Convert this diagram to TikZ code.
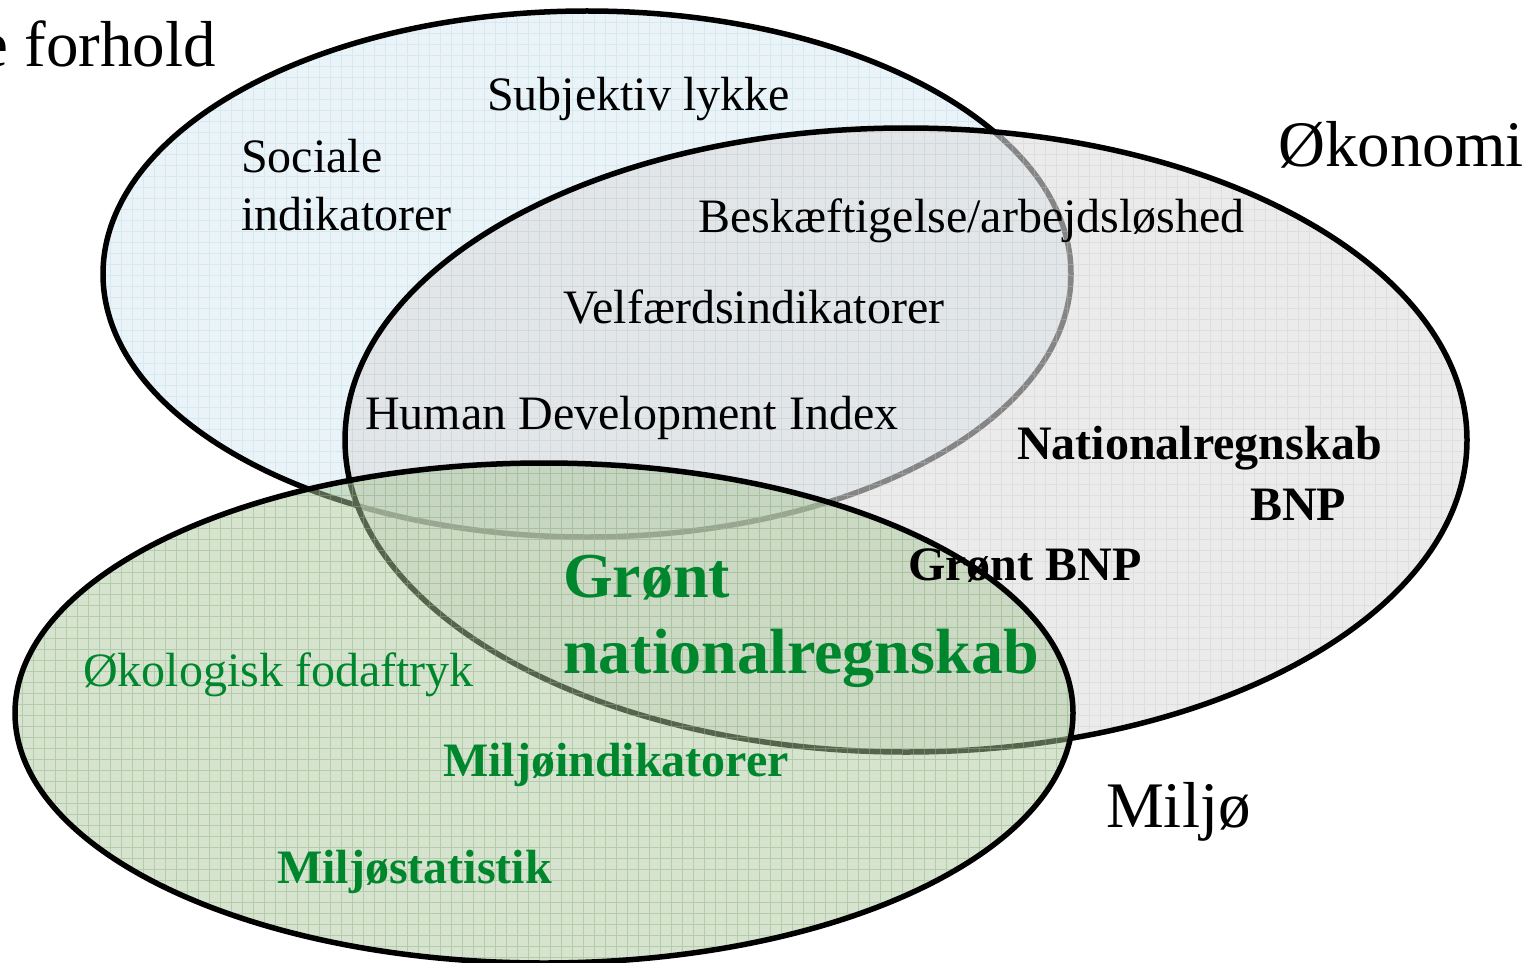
\documentclass[tikz,border=0pt]{standalone}
\usepackage{fontspec}
\setmainfont{Liberation Serif}
\definecolor{blueset}{RGB}{234,244,248}
\definecolor{bluegrid}{RGB}{214,232,240}
\definecolor{grayset}{RGB}{222,222,222}
\definecolor{graygrid}{RGB}{200,200,200}
\definecolor{greenset}{RGB}{171,199,159}
\definecolor{greengrid}{RGB}{140,178,125}
\definecolor{txtgreen}{RGB}{0,134,45}
\tikzset{
  outline/.style={line width=5.5pt, draw=black},
  lbl/.style={anchor=base west, inner sep=0pt, font=\fontsize{48}{58}\selectfont},
  lblb/.style={anchor=base west, inner sep=0pt, font=\fontsize{48}{58}\selectfont\bfseries},
  setlbl/.style={anchor=base west, inner sep=0pt, font=\fontsize{65}{78}\selectfont},
  biggreen/.style={anchor=base west, inner sep=0pt, text=txtgreen, font=\fontsize{64}{78}\selectfont\bfseries},
  gridline/.style={line width=0.7pt, step=11pt}
}
\begin{document}
\begin{tikzpicture}[x=1pt,y=-1pt]
\useasboundingbox (0,0) rectangle (1539,963);
\begin{scope}
\clip (0,0) rectangle (1539,963);
% Social set (blue)
\fill[blueset] (587,274) ellipse [x radius=484, y radius=263];
\begin{scope}
  \clip (587,274) ellipse [x radius=484, y radius=263];
  \draw[gridline, bluegrid] (0,0) grid (1539,963);
\end{scope}
\draw[outline] (587,274) ellipse [x radius=484, y radius=263];
% Economy set (gray)
\fill[grayset, fill opacity=0.6] (906,440) ellipse [x radius=561, y radius=312];
\begin{scope}
  \clip (906,440) ellipse [x radius=561, y radius=312];
  \draw[gridline, graygrid, opacity=0.35] (0,0) grid (1539,963);
\end{scope}
\draw[outline] (906,440) ellipse [x radius=561, y radius=312];
% Environment set (green)
\fill[greenset, fill opacity=0.5] (544,713) ellipse [x radius=529, y radius=250];
\begin{scope}
  \clip (544,713) ellipse [x radius=529, y radius=250];
  \draw[gridline, greengrid, opacity=0.45] (0,0) grid (1539,963);
\end{scope}
\draw[outline] (544,713) ellipse [x radius=529, y radius=250];

% set labels
\node[setlbl, anchor=base east] (social) at (216,67) {Sociale forhold};
\node[setlbl] (economy) at (1278,167) {Økonomi};
\node[setlbl] (environment) at (1106,827) {Miljø};
\end{scope}

% social items
\node[lbl] (lykke) at (487,111) {Subjektiv lykke};
\node[lbl] (sociale) at (241,172) {Sociale};
\node[lbl] (indik) at (241,230) {indikatorer};
\node[lbl] (beskaef) at (698,232) {Beskæftigelse/arbejdsløshed};
\node[lbl] (velfaerd) at (563,323) {Velfærdsindikatorer};
\node[lbl] (hdi) at (365,429) {Human Development Index};
% economy items
\node[lblb] (nat) at (1017,459) {Nationalregnskab};
\node[lblb] (bnp) at (1250,520) {BNP};
\node[lblb] (gbnp) at (908,580) {Grønt BNP};
% green items
\node[biggreen] (gron) at (563,597) {Grønt};
\node[biggreen] (gnat) at (563,673) {nationalregnskab};
\node[lbl, text=txtgreen] (fodaf) at (83,686) {Økologisk fodaftryk};
\node[lblb, text=txtgreen] (miljoind) at (443,776) {Miljøindikatorer};
\node[lblb, text=txtgreen] (miljostat) at (277,883) {Miljøstatistik};
\end{tikzpicture}
\end{document}
